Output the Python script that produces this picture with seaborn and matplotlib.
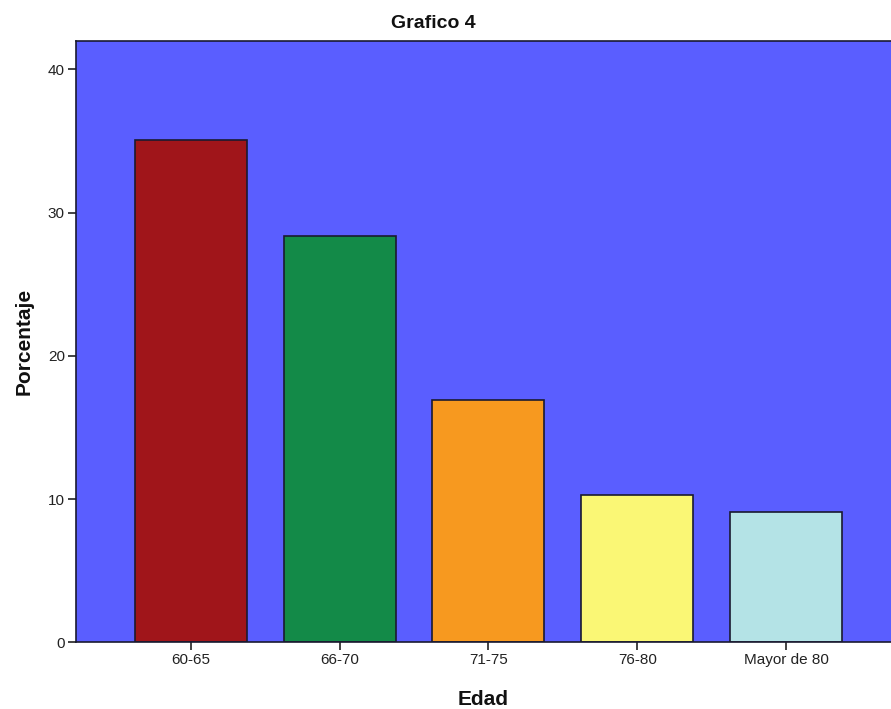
import matplotlib
matplotlib.use("Agg")
import matplotlib.pyplot as plt
import seaborn as sns
import pandas as pd

# Age groups and their share of respondents (%)
categorias = ["60-65", "66-70", "71-75", "76-80", "Mayor de 80"]
porcentajes = [35.1, 28.4, 16.9, 10.3, 9.1]
colores = ["#A0151A", "#138A48", "#F7991F", "#FAF775", "#B4E3E6"]
ticks_y = [0, 10, 20, 30, 40]

sns.set_theme(style="white")
plt.rcParams["font.family"] = ["Liberation Sans", "DejaVu Sans"]

df = pd.DataFrame({"Edad": categorias, "Porcentaje": porcentajes})

fig = plt.figure(figsize=(8.91, 7.09), dpi=100)
ax = fig.add_axes([76 / 891, 1 - 642.3 / 709, 1 - 76 / 891, (642.3 - 40.7) / 709])
ax.set_facecolor("#5A5EFF")

sns.barplot(data=df, x="Edad", y="Porcentaje", hue="Edad", palette=colores,
            order=categorias, hue_order=categorias, legend=False,
            width=0.753, edgecolor="#1a1a30", linewidth=1.2, saturation=1, ax=ax)

ax.set_xlim(-0.773, 4.706)
ax.set_ylim(0, 42)
ax.set_yticks(ticks_y)
ax.set_yticklabels([str(t) for t in ticks_y])

for side in ["left", "bottom", "top"]:
    ax.spines[side].set_visible(True)
    ax.spines[side].set_color("#1a1a30")
    ax.spines[side].set_linewidth(1.2)
ax.spines["right"].set_visible(False)

ax.tick_params(axis="both", which="major", direction="out", length=6, width=1.2,
               color="#222222", labelsize=11, labelcolor="#222222", pad=2,
               left=True, bottom=True)

ax.set_xlabel("Edad", fontsize=15, fontweight="bold", labelpad=16, color="#111111")
ax.set_ylabel("Porcentaje", fontsize=15, fontweight="bold", labelpad=10, color="#111111")

fig.text(433 / 891, 1 - 24 / 709, "Grafico 4", ha="center", va="center",
         fontsize=14, fontweight="bold", color="#111111")

fig.savefig("out.png", dpi=100)
